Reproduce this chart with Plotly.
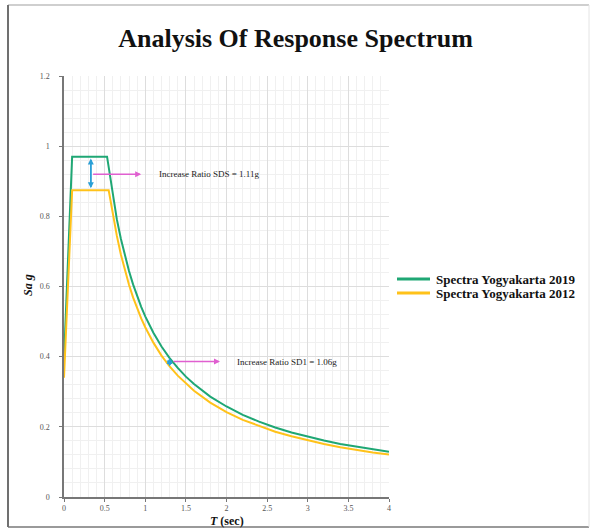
import plotly.graph_objects as go

# ---- data ----
T_2019 = [0, 0.1, 0.53, 0.6, 0.65, 0.7, 0.75, 0.8, 0.85, 0.9, 0.95, 1.0, 1.1, 1.2, 1.3, 1.4,
          1.5, 1.6, 1.8, 2.0, 2.2, 2.4, 2.6, 2.8, 3.0, 3.2, 3.4, 3.6, 3.8, 4.0]
Sa_2019 = [0.39, 0.97, 0.97, 0.858, 0.792, 0.736, 0.687, 0.644, 0.606, 0.572, 0.542, 0.515,
           0.468, 0.429, 0.396, 0.368, 0.343, 0.322, 0.286, 0.258, 0.234, 0.215, 0.198,
           0.184, 0.172, 0.161, 0.151, 0.143, 0.136, 0.129]
T_2012 = [0, 0.1, 0.55, 0.6, 0.65, 0.7, 0.75, 0.8, 0.85, 0.9, 0.95, 1.0, 1.1, 1.2, 1.3, 1.4,
          1.5, 1.6, 1.8, 2.0, 2.2, 2.4, 2.6, 2.8, 3.0, 3.2, 3.4, 3.6, 3.8, 4.0]
Sa_2012 = [0.34, 0.874, 0.874, 0.807, 0.745, 0.691, 0.645, 0.605, 0.569, 0.538, 0.509, 0.484,
           0.44, 0.403, 0.372, 0.346, 0.323, 0.303, 0.269, 0.242, 0.22, 0.202, 0.186, 0.173,
           0.161, 0.151, 0.142, 0.134, 0.127, 0.121]
series_names = ["Spectra Yogyakarta 2019", "Spectra Yogyakarta 2012"]
x_ticks = [0, 0.5, 1, 1.5, 2, 2.5, 3, 3.5, 4]
x_ticklabels = ["0", "0.5", "1", "1.5", "2", "2.5", "3", "3.5", "4"]
y_ticks = [0, 0.2, 0.4, 0.6, 0.8, 1, 1.2]
y_ticklabels = ["0", "0.2", "0.4", "0.6", "0.8", "1", "1.2"]
label_sds = "Increase Ratio SDS = 1.11g"
label_sd1 = "Increase Ratio SD1 = 1.06g"
x_title = "<b><i>T</i> (sec)</b>"
y_title = "<b><i>Sa g</i></b>"

GREEN = "#1fa774"
YELLOW = "#ffc21a"
COLORS = [GREEN, YELLOW]
SERIF = "Liberation Serif, Times New Roman, serif"

L, R, Tm, B = 64, 202, 76, 32
W, H = 591, 529
pw, ph = W - L - R, H - Tm - B
def px(p):
    return (p - L) / pw
def py(q):
    return (H - B - q) / ph

fig = go.Figure()
fig.add_trace(go.Scatter(x=T_2019, y=Sa_2019, mode="lines", name=series_names[0],
                         line=dict(color=GREEN, width=2), showlegend=False))
fig.add_trace(go.Scatter(x=T_2012, y=Sa_2012, mode="lines", name=series_names[1],
                         line=dict(color=YELLOW, width=2), showlegend=False))

# ---- legend (drawn manually to match tight spacing) ----
for i, (nm, col) in enumerate(zip(series_names, COLORS)):
    yy = py(279 + 14 * i)
    fig.add_shape(type="line", xref="paper", yref="paper", x0=px(397), x1=px(430), y0=yy, y1=yy,
                  line=dict(color=col, width=3))
    fig.add_annotation(x=px(434), y=yy, xref="paper", yref="paper", text="<b>%s</b>" % nm,
                       showarrow=False, xanchor="left", yanchor="middle",
                       font=dict(family=SERIF, size=13, color="#111"))

# ---- axis titles ----
fig.add_annotation(x=0.5, y=py(521), xref="paper", yref="paper", text=x_title, showarrow=False,
                   xanchor="center", yanchor="middle", font=dict(family=SERIF, size=12, color="#111"))
fig.add_annotation(x=px(28), y=py(285), xref="paper", yref="paper", text=y_title, showarrow=False,
                   textangle=-90, xanchor="center", yanchor="middle",
                   font=dict(family=SERIF, size=12, color="#111"))

# ---- annotations: blue difference arrows and magenta pointers ----
def double_arrow(x, y0, y1):
    for a, b in ((y0, y1), (y1, y0)):
        fig.add_annotation(x=x, y=b, ax=x, ay=a, xref="x", yref="y", axref="x", ayref="y",
                           showarrow=True, arrowhead=2, arrowsize=0.8, arrowwidth=1.5,
                           arrowcolor="#2a9fd6", text="")

double_arrow(0.33, 0.965, 0.88)
fig.add_annotation(x=0.95, y=0.92, ax=0.34, ay=0.92, xref="x", yref="y", axref="x", ayref="y",
                   showarrow=True, arrowhead=2, arrowsize=0.8, arrowwidth=1.5,
                   arrowcolor="#e05fd0", text="")
fig.add_annotation(x=1.15, y=0.92, xref="x", yref="y", text=label_sds, showarrow=False,
                   xanchor="left", font=dict(family=SERIF, size=9, color="#222"))

double_arrow(1.3, 0.396, 0.372)
fig.add_annotation(x=1.92, y=0.386, ax=1.33, ay=0.386, xref="x", yref="y", axref="x", ayref="y",
                   showarrow=True, arrowhead=2, arrowsize=0.8, arrowwidth=1.5,
                   arrowcolor="#e05fd0", text="")
fig.add_annotation(x=2.1, y=0.386, xref="x", yref="y", text=label_sd1, showarrow=False,
                   xanchor="left", font=dict(family=SERIF, size=9, color="#222"))

# ---- outer frame ----
fig.add_shape(type="line", xref="paper", yref="paper", x0=px(8), x1=px(589), y0=py(5), y1=py(5),
              line=dict(color="#cfcfcf", width=2))
fig.add_shape(type="line", xref="paper", yref="paper", x0=px(8), x1=px(589), y0=py(527), y1=py(527),
              line=dict(color="#9a9a9a", width=2))
fig.add_shape(type="line", xref="paper", yref="paper", x0=px(8), x1=px(8), y0=py(5), y1=py(527),
              line=dict(color="#707070", width=2))
fig.add_shape(type="line", xref="paper", yref="paper", x0=px(589), x1=px(589), y0=py(5), y1=py(527),
              line=dict(color="#e4e4e4", width=1))

fig.update_layout(
    width=W, height=H,
    margin=dict(l=L, r=R, t=Tm, b=B),
    paper_bgcolor="white", plot_bgcolor="white",
    title=dict(text="<b>Analysis Of Response Spectrum</b>", x=0.5, xref="container",
               xanchor="center", y=1 - 38 / H, yanchor="middle",
               font=dict(family=SERIF, size=26, color="#111")),
    font=dict(family=SERIF),
    showlegend=False,
)
fig.update_xaxes(range=[0, 4], tickvals=x_ticks, ticktext=x_ticklabels, automargin=False,
                 showgrid=True, gridcolor="#dddddd", gridwidth=1,
                 minor=dict(dtick=0.1, showgrid=True, gridcolor="#f0f0f0", gridwidth=1),
                 showline=True, linecolor="#777", linewidth=1.5, ticks="outside", ticklen=3,
                 tickcolor="#777", tickfont=dict(family=SERIF, size=8, color="#555"),
                 ticklabelstandoff=0, zeroline=False)
fig.update_yaxes(range=[0, 1.2], tickvals=y_ticks, ticktext=y_ticklabels, automargin=False,
                 showgrid=True, gridcolor="#dddddd", gridwidth=1,
                 minor=dict(dtick=0.04, showgrid=True, gridcolor="#f0f0f0", gridwidth=1),
                 showline=True, linecolor="#777", linewidth=1.5, ticks="outside", ticklen=3,
                 tickcolor="#777", tickfont=dict(family=SERIF, size=8, color="#555"),
                 ticklabelstandoff=8, zeroline=False)

fig.write_html("out.html")
